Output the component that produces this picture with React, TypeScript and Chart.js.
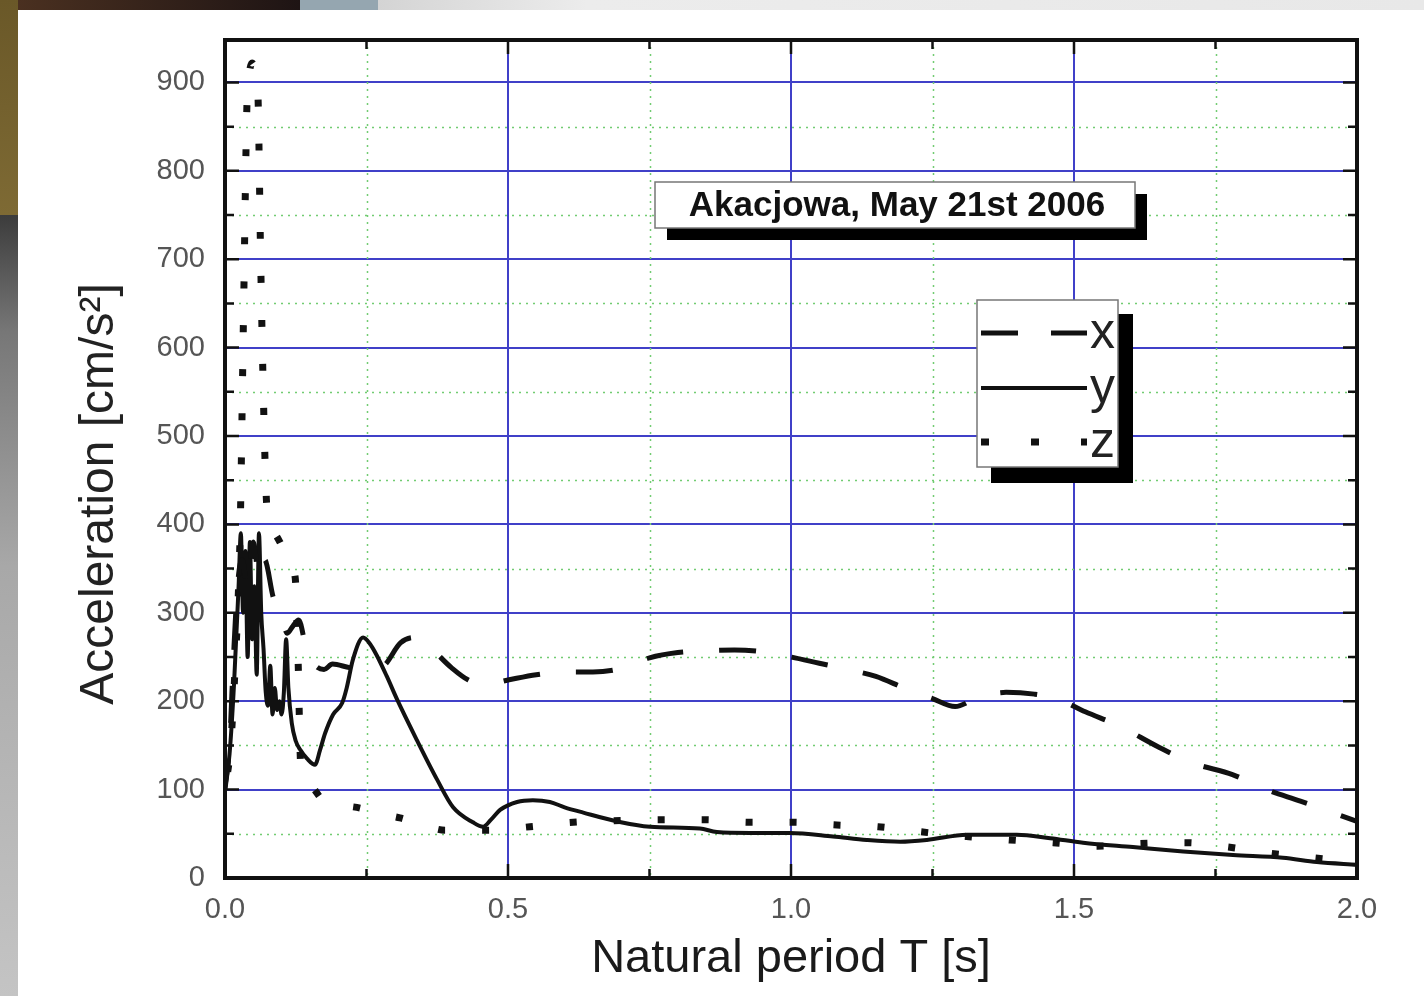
import React, { useEffect, useRef } from "react";
import { Chart, registerables } from "chart.js";

Chart.register(...registerables);

// ---- data ----
const periodX = [0, 0.008, 0.015, 0.022, 0.03, 0.04, 0.05, 0.06, 0.07, 0.085, 0.1, 0.11, 0.12, 0.13, 0.145, 0.16, 0.175, 0.19, 0.22, 0.25, 0.28, 0.31, 0.335, 0.36, 0.4, 0.43, 0.46, 0.5, 0.55, 0.6, 0.65, 0.7, 0.75, 0.8, 0.85, 0.9, 0.95, 1.0, 1.05, 1.1, 1.15, 1.2, 1.25, 1.29, 1.33, 1.38, 1.43, 1.47, 1.52, 1.58, 1.65, 1.71, 1.78, 1.84, 1.9, 1.97, 2.0];
const accelX = [100, 150, 250, 330, 360, 330, 380, 340, 360, 318, 295, 277, 285, 292, 255, 240, 236, 242, 238, 236, 240, 266, 272, 262, 238, 224, 219, 224, 230, 233, 233, 237, 249, 255, 257, 258, 256, 250, 243, 236, 228, 215, 203, 194, 204, 210, 208, 203, 188, 172, 148, 130, 117, 100, 87, 71, 64];

const periodY = [0, 0.008, 0.016, 0.024, 0.028, 0.032, 0.036, 0.04, 0.044, 0.048, 0.052, 0.056, 0.06, 0.064, 0.068, 0.072, 0.076, 0.08, 0.084, 0.088, 0.092, 0.096, 0.1, 0.104, 0.108, 0.112, 0.118, 0.125, 0.133, 0.145, 0.159, 0.168, 0.177, 0.191, 0.207, 0.215, 0.226, 0.244, 0.256, 0.268, 0.286, 0.304, 0.339, 0.375, 0.403, 0.438, 0.456, 0.47, 0.486, 0.516, 0.544, 0.574, 0.6, 0.633, 0.693, 0.751, 0.839, 0.869, 0.928, 0.998, 1.074, 1.134, 1.193, 1.24, 1.311, 1.369, 1.399, 1.458, 1.516, 1.604, 1.693, 1.781, 1.869, 1.929, 2.0];
const accelY = [100, 140, 220, 330, 390, 300, 370, 250, 380, 270, 330, 230, 390, 300, 260, 210, 195, 240, 185, 215, 190, 200, 185, 210, 270, 215, 175, 155, 145, 135, 128, 145, 164, 185, 198, 215, 247, 272, 265, 252, 228, 202, 156, 111, 80, 63, 58, 66, 77, 86, 88, 86, 80, 74, 64, 58, 56, 52, 51, 51, 47, 43, 41, 43, 49, 49, 49, 45, 40, 35, 30, 26, 23, 18, 15];

const periodZ = [0, 0.01, 0.018, 0.024, 0.027, 0.033, 0.039, 0.044, 0.048, 0.053, 0.058, 0.063, 0.068, 0.073, 0.077, 0.085, 0.097, 0.11, 0.124, 0.129, 0.134, 0.15, 0.173, 0.2, 0.239, 0.27, 0.309, 0.35, 0.389, 0.463, 0.539, 0.615, 0.7, 0.772, 0.848, 0.928, 1.004, 1.081, 1.154, 1.233, 1.31, 1.387, 1.463, 1.541, 1.617, 1.696, 1.772, 1.846, 1.922, 2.0];
const accelZ = [100, 150, 240, 330, 400, 650, 880, 915, 922, 915, 890, 700, 540, 430, 400, 392, 380, 362, 340, 250, 125, 105, 88, 83, 79, 73, 68, 60, 54, 54, 58, 63, 65, 66, 66, 63, 63, 60, 58, 52, 47, 43, 40, 36, 39, 40, 35, 28, 23, 18];

const seriesLabels = ["x", "y", "z"];
const xTickLabels = ["0.0", "0.5", "1.0", "1.5", "2.0"];
const chartTitle = "Akacjowa, May 21st 2006";
const xAxisTitle = "Natural period T [s]";
const yAxisTitle = "Acceleration [cm/s\u00B2]";

const FONT = '"Liberation Sans", Arial, Helvetica, sans-serif';
const BLUE = "#4040c8";
const GREEN = "#72cc72";

const toPoints = (ts: number[], vs: number[]) => ts.map((t, i) => ({ x: t, y: vs[i] }));

const decor = {
  id: "decor",
  beforeDatasetsDraw(chart: any) {
    const { ctx, chartArea: a, scales } = chart;
    const sx = scales.x;
    const sy = scales.y;
    ctx.save();
    ctx.strokeStyle = GREEN;
    ctx.lineWidth = 1.5;
    ctx.setLineDash([2, 5]);
    for (let v = 0.25; v < 2; v += 0.5) {
      const px = Math.round(sx.getPixelForValue(v)) + 0.5;
      ctx.beginPath();
      ctx.moveTo(px, a.top);
      ctx.lineTo(px, a.bottom);
      ctx.stroke();
    }
    for (let v = 50; v < sy.max; v += 100) {
      const py = Math.round(sy.getPixelForValue(v)) + 0.5;
      ctx.beginPath();
      ctx.moveTo(a.left, py);
      ctx.lineTo(a.right, py);
      ctx.stroke();
    }
    ctx.restore();
  },
  afterDatasetsDraw(chart: any) {
    const { ctx, chartArea: a, scales } = chart;
    const sx = scales.x;
    const sy = scales.y;
    ctx.save();
    // inward tick marks
    ctx.strokeStyle = "#111";
    ctx.lineWidth = 2.5;
    ctx.setLineDash([]);
    for (let i = 0; i <= 8; i++) {
      const v = i * 0.25;
      const len = i % 2 === 0 ? 14 : 9;
      const px = sx.getPixelForValue(v);
      ctx.beginPath();
      ctx.moveTo(px, a.bottom);
      ctx.lineTo(px, a.bottom - len);
      ctx.moveTo(px, a.top);
      ctx.lineTo(px, a.top + len);
      ctx.stroke();
    }
    for (let v = 0; v <= sy.max; v += 50) {
      const len = v % 100 === 0 ? 14 : 9;
      const py = sy.getPixelForValue(v);
      ctx.beginPath();
      ctx.moveTo(a.left, py);
      ctx.lineTo(a.left + len, py);
      ctx.moveTo(a.right, py);
      ctx.lineTo(a.right - len, py);
      ctx.stroke();
    }
    // frame
    ctx.lineWidth = 4;
    ctx.strokeStyle = "#111";
    ctx.strokeRect(a.left, a.top, a.right - a.left, a.bottom - a.top);

    // title box
    const tb = { l: a.left + 430, t: a.top + 142, w: 480, h: 46 };
    ctx.fillStyle = "#000";
    ctx.fillRect(tb.l + 12, tb.t + 12, tb.w, tb.h);
    ctx.fillStyle = "#fff";
    ctx.fillRect(tb.l, tb.t, tb.w, tb.h);
    ctx.strokeStyle = "#777";
    ctx.lineWidth = 1.5;
    ctx.strokeRect(tb.l, tb.t, tb.w, tb.h);
    ctx.fillStyle = "#111";
    ctx.font = `bold 35px ${FONT}`;
    ctx.textAlign = "center";
    ctx.textBaseline = "middle";
    ctx.fillText(chartTitle, tb.l + tb.w / 2 + 2, tb.t + tb.h / 2 + 1);

    // legend box
    const lb = { l: a.left + 752, t: a.top + 260, w: 141, h: 167 };
    ctx.fillStyle = "#000";
    ctx.fillRect(lb.l + 14, lb.t + 14, lb.w + 1, lb.h + 2);
    ctx.fillStyle = "#fff";
    ctx.fillRect(lb.l, lb.t, lb.w, lb.h);
    ctx.strokeStyle = "#777";
    ctx.lineWidth = 1.5;
    ctx.strokeRect(lb.l, lb.t, lb.w, lb.h);
    const rows = [33, 88, 142];
    chart.data.datasets.forEach((ds: any, i: number) => {
      const yy = lb.t + rows[i];
      ctx.save();
      ctx.strokeStyle = ds.borderColor;
      ctx.lineWidth = ds.borderWidth;
      ctx.lineCap = "butt";
      ctx.setLineDash(ds.legendDash || []);
      ctx.beginPath();
      ctx.moveTo(lb.l + 4, yy);
      ctx.lineTo(lb.l + 110, yy);
      ctx.stroke();
      ctx.restore();
      ctx.fillStyle = "#222";
      ctx.font = `50px ${FONT}`;
      ctx.textAlign = "left";
      ctx.textBaseline = "alphabetic";
      ctx.fillText(ds.label, lb.l + 113, yy + 15);
    });

    // y axis title
    ctx.save();
    ctx.translate(100, (a.top + a.bottom) / 2 + 35);
    ctx.rotate(-Math.PI / 2);
    ctx.fillStyle = "#222";
    ctx.font = `48px ${FONT}`;
    ctx.textAlign = "center";
    ctx.textBaseline = "middle";
    ctx.fillText(yAxisTitle, 0, 0);
    ctx.restore();

    ctx.restore();
  },
};

export default function App() {
  const ref = useRef<HTMLCanvasElement | null>(null);

  useEffect(() => {
    if (!ref.current) return;
    const chart = new Chart(ref.current, {
      type: "line",
      data: {
        datasets: [
          {
            label: seriesLabels[0],
            data: toPoints(periodX, accelX),
            borderColor: "#111",
            borderWidth: 5,
            borderDash: [37, 36],
            borderDashOffset: 6,
            legendDash: [37, 33],
            pointRadius: 0,
            cubicInterpolationMode: "monotone",
            fill: false,
          } as any,
          {
            label: seriesLabels[1],
            data: toPoints(periodY, accelY),
            borderColor: "#111",
            borderWidth: 4,
            legendDash: [],
            pointRadius: 0,
            cubicInterpolationMode: "monotone",
            fill: false,
          } as any,
          {
            label: seriesLabels[2],
            data: toPoints(periodZ, accelZ),
            borderColor: "#111",
            borderWidth: 7,
            borderDash: [7, 37],
            borderDashOffset: 26,
            legendDash: [8, 42],
            pointRadius: 0,
            cubicInterpolationMode: "monotone",
            fill: false,
          } as any,
        ],
      },
      options: {
        animation: false,
        responsive: false,
        maintainAspectRatio: false,
        layout: { padding: { top: 40, right: 67, bottom: 0, left: 0 } },
        plugins: {
          legend: { display: false },
          tooltip: { enabled: false },
          title: { display: false },
        },
        scales: {
          x: {
            type: "linear",
            min: 0,
            max: 2,
            border: { display: false },
            grid: { color: BLUE, lineWidth: 2, drawTicks: false },
            ticks: {
              stepSize: 0.5,
              padding: 15,
              color: "#555",
              font: { family: FONT, size: 29 },
              callback: (_v: any, i: number) => xTickLabels[i],
              maxRotation: 0,
            },
            title: {
              display: true,
              text: xAxisTitle,
              color: "#1a1a1a",
              font: { family: FONT, size: 47, lineHeight: 1.2 },
              padding: { top: 0, bottom: 9 },
            },
            afterFit: (s: any) => {
              s.height = 118;
            },
          },
          y: {
            type: "linear",
            min: 0,
            max: 948,
            border: { display: false },
            grid: { color: BLUE, lineWidth: 2, drawTicks: false },
            ticks: {
              stepSize: 100,
              includeBounds: false,
              padding: 20,
              color: "#555",
              font: { family: FONT, size: 29 },
            },
            afterFit: (s: any) => {
              s.width = 225;
            },
          },
        },
      } as any,
      plugins: [decor],
    });
    return () => chart.destroy();
  }, []);

  return (
    <div style={{ position: "fixed", left: 0, top: 0, width: 1424, height: 996, overflow: "hidden", background: "#cfcfcf" }}>
      <div style={{ position: "absolute", left: 0, top: 0, width: 18, height: 215, background: "linear-gradient(#6a5828, #7e6a34)" }} />
      <div style={{ position: "absolute", left: 0, top: 215, width: 18, height: 781, background: "linear-gradient(#3c3c3c 0%, #777 15%, #a8a8a8 45%, #c4c4c4 100%)" }} />
      <div style={{ position: "absolute", left: 18, top: 0, width: 282, height: 10, background: "linear-gradient(to right, #4a3020, #1e1414)" }} />
      <div style={{ position: "absolute", left: 300, top: 0, width: 78, height: 10, background: "#95a6b0" }} />
      <div style={{ position: "absolute", left: 378, top: 0, width: 1046, height: 10, background: "linear-gradient(to right, #d4d4d4, #ececec 20%, #e8e8e8)" }} />
      <div style={{ position: "absolute", left: 18, top: 10, width: 1406, height: 986, background: "#ffffff" }} />
      <canvas ref={ref} width={1424} height={996} style={{ position: "absolute", left: 0, top: 0, width: 1424, height: 996 }} />
    </div>
  );
}
